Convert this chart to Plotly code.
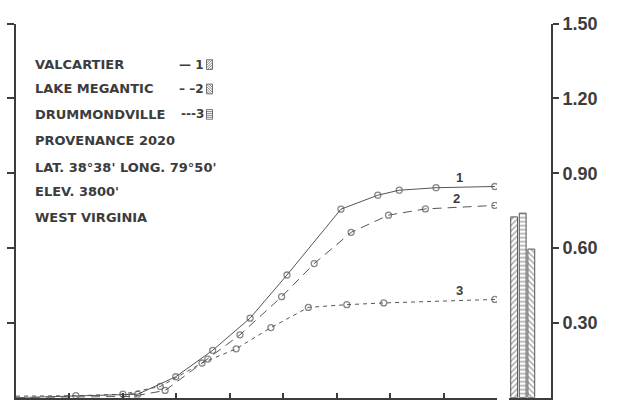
import plotly.graph_objects as go

# --- growth curves (x in tick intervals, y in same units as right scale) ---
x1 = [0, 2.28, 2.99, 3.68, 4.38, 5.07, 6.08, 6.77, 7.17, 7.86, 8.96]
y1 = [0.0, 0.014, 0.084, 0.190, 0.319, 0.492, 0.756, 0.812, 0.832, 0.842, 0.847]

x2 = [0, 2.17, 2.79, 3.59, 4.19, 4.97, 5.58, 6.27, 6.97, 7.66, 8.96]
y2 = [0.0, 0.005, 0.029, 0.155, 0.252, 0.405, 0.538, 0.663, 0.732, 0.757, 0.771]

x3 = [0, 1.12, 2.00, 2.70, 3.48, 4.12, 4.77, 5.47, 6.19, 6.88, 8.96]
y3 = [0.006, 0.008, 0.014, 0.045, 0.139, 0.196, 0.281, 0.362, 0.373, 0.380, 0.394]

# --- side bars (pattern per provenance) ---
bar_ids = ["1", "3", "2"]
bar_values = [0.725, 0.74, 0.596]
bar_patterns = ["/", "-", "\\"]

right_ticks = [0.30, 0.60, 0.90, 1.20, 1.50]
right_labels = ["0.30", "0.60", "0.90", "1.20", "1.50"]

names = ["VALCARTIER", "LAKE MEGANTIC", "DRUMMONDVILLE"]
keys = ["\u2014 1", "\u2013 \u20132", "---3"]
key_hatch = ["/", "\\", "-"]
info = ["PROVENANCE 2020", "LAT. 38°38' LONG. 79°50'", "ELEV. 3800'", "WEST VIRGINIA"]

W, H = 624, 405
INK = "#3c3c3c"
LINE = "#555555"


def px(x):
    return x / W


def py(y):
    return (H - y) / H


ydom = [py(397.5), py(14)]

fig = go.Figure()

styles = [("solid", x1, y1), ("9px,6px", x2, y2), ("4px,4px", x3, y3)]
for dash, xs, ys in styles:
    sizes = [0] + [6] * (len(xs) - 1)
    fig.add_trace(go.Scatter(
        x=xs, y=ys, mode="lines+markers",
        line=dict(color=LINE, width=1, dash=dash),
        marker=dict(symbol="circle-open", size=sizes, color=LINE,
                    line=dict(width=1.3, color=LINE)),
        xaxis="x", yaxis="y", showlegend=False, hoverinfo="skip"))

fig.add_trace(go.Bar(
    x=[0, 1, 2], y=bar_values, width=0.8,
    marker=dict(color="white", line=dict(color=LINE, width=1),
                pattern=dict(shape=bar_patterns, fgcolor="#444444",
                             bgcolor="white", size=4, solidity=0.35)),
    xaxis="x2", yaxis="y2", showlegend=False, hoverinfo="skip"))

fig.update_layout(
    width=W, height=H,
    margin=dict(l=0, r=0, t=0, b=0),
    paper_bgcolor="white", plot_bgcolor="white",
    xaxis=dict(domain=[px(16), px(497)], range=[0, 9],
               tickvals=list(range(1, 10)), ticks="inside", ticklen=5,
               tickcolor=INK, tickwidth=1.5, showticklabels=False,
               showline=True, linecolor=INK, linewidth=2,
               showgrid=False, zeroline=False, anchor="y"),
    yaxis=dict(domain=ydom, range=[0, 1.5], tickvals=right_ticks,
               ticks="outside", ticklen=7, tickcolor=INK, tickwidth=1.5,
               showticklabels=False, showline=True, linecolor=INK,
               linewidth=2, showgrid=False, zeroline=False, anchor="x"),
    xaxis2=dict(domain=[px(509), px(551)], range=[-0.6, 4.3],
                showticklabels=False, ticks="", showline=True,
                linecolor=INK, linewidth=2, showgrid=False,
                zeroline=False, anchor="y2"),
    yaxis2=dict(domain=ydom, range=[0, 1.5], side="right",
                tickvals=right_ticks, ticktext=right_labels,
                ticks="outside", ticklen=6, tickcolor=INK, tickwidth=1.5,
                tickfont=dict(family="Liberation Sans", size=18,
                              color=INK, weight="bold"),
                showline=True, linecolor=INK, linewidth=2,
                showgrid=False, zeroline=False, anchor="x2"),
    bargap=0.1,
)

text_font = dict(family="DejaVu Sans", size=13, color=INK, weight="bold")
key_font = dict(family="DejaVu Sans", size=12, color=INK, weight="bold")
rows = [56, 81, 107, 134, 161, 186, 213]
annotations = []
shapes = []
for i, name in enumerate(names):
    annotations.append(dict(x=px(33), y=py(rows[i]), xref="paper", yref="paper",
                            text=name, showarrow=False, xanchor="left",
                            yanchor="middle", font=text_font))
    annotations.append(dict(x=px(206), y=py(rows[i]), xref="paper", yref="paper",
                            text=keys[i], showarrow=False, xanchor="right",
                            yanchor="middle", font=key_font))
    # small hatched key box after the number
    bx0, bx1 = 206.5, 212.5
    by0, by1 = rows[i] - 5, rows[i] + 5
    shapes.append(dict(type="rect", xref="paper", yref="paper",
                       x0=px(bx0), x1=px(bx1), y0=py(by1), y1=py(by0),
                       line=dict(color=LINE, width=0.8)))
    path = ""
    if key_hatch[i] == "-":
        for k in range(1, 5):
            yy = by0 + k * 2
            path += f"M{px(bx0)},{py(yy)} L{px(bx1)},{py(yy)} "
    else:
        for k in range(-2, 5):
            ya = by0 + k * 2.5
            yb = ya + 6
            ya_c, yb_c = max(min(ya, by1), by0), max(min(yb, by1), by0)
            xa = bx0 + (ya_c - ya)
            xb = bx0 + (yb_c - ya)
            if xb <= xa:
                continue
            if key_hatch[i] == "\\":
                path += f"M{px(xa)},{py(ya_c)} L{px(xb)},{py(yb_c)} "
            else:
                path += (f"M{px(bx0 + bx1 - xa)},{py(ya_c)} "
                         f"L{px(bx0 + bx1 - xb)},{py(yb_c)} ")
    shapes.append(dict(type="path", xref="paper", yref="paper", path=path,
                       line=dict(color=LINE, width=0.7)))

for j, line in enumerate(info):
    annotations.append(dict(x=px(33), y=py(rows[3 + j]), xref="paper",
                            yref="paper", text=line, showarrow=False,
                            xanchor="left", yanchor="middle", font=text_font))

# curve numbers near the right-hand ends
curve_tags = [("1", 8.29, 0.882), ("2", 8.25, 0.800), ("3", 8.29, 0.428)]
for tag, tx, ty in curve_tags:
    annotations.append(dict(x=tx, y=ty, xref="x", yref="y", text=tag,
                            showarrow=False, font=dict(family="Liberation Sans",
                                                       size=13, color=INK,
                                                       weight="bold")))

fig.update_layout(annotations=annotations, shapes=shapes)

fig.write_html("out.html")
